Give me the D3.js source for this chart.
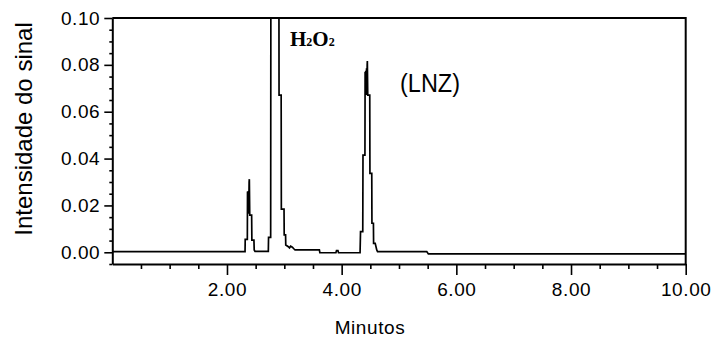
<!DOCTYPE html>
<html>
<head>
<meta charset="utf-8">
<script src="https://cdn.jsdelivr.net/npm/d3@7"></script>
<style>
  html, body { margin: 0; padding: 0; background: #fff; }
  svg { display: block; }
  .tick text { font-family: "Liberation Sans", Arial, sans-serif; fill: #000; }
</style>
</head>
<body>
<svg id="chart" width="711" height="346"></svg>
<script>
// Chromatogram trace: retention time (min) and detector signal
const retentionTime = [
  0.000, 2.315, 2.318, 2.355, 2.358, 2.366, 2.372, 2.379, 2.386, 2.390,
  2.397, 2.430, 2.434, 2.470, 2.475, 2.489,
  2.721, 2.725, 2.762, 2.766, 2.840, 2.905, 2.908, 2.945, 2.948, 2.995,
  2.998, 3.022, 3.025, 3.070, 3.090, 3.110, 3.140, 3.170, 3.187, 3.611,
  3.620, 3.900, 3.910, 3.935, 3.945, 4.321,
  4.329, 4.368, 4.372, 4.406, 4.409, 4.416, 4.422, 4.428, 4.434, 4.440,
  4.445, 4.448, 4.455, 4.490, 4.493, 4.525, 4.528, 4.554, 4.557, 4.585,
  4.612, 4.626, 5.484, 5.512, 10.000
];
const signal = [
  0.0003, 0.0003, 0.0055, 0.0055, 0.0259, 0.0165, 0.0262, 0.0165, 0.0300, 0.0312,
  0.0159, 0.0159, 0.0052, 0.0052, 0.0010, 0.0004,
  0.0004, 0.0064, 0.0064, 0.1300, 0.3500, 0.1300, 0.0671, 0.0671, 0.0184, 0.0184,
  0.0074, 0.0074, 0.0031, 0.0024, 0.0019, 0.0026, 0.0022, 0.0014, 0.0010, 0.0010,
  -0.0002, -0.0002, 0.0007, 0.0007, -0.0002, -0.0002,
  0.0088, 0.0088, 0.0415, 0.0415, 0.0771, 0.0671, 0.0775, 0.0671, 0.0785, 0.0671,
  0.0800, 0.0816, 0.0671, 0.0671, 0.0337, 0.0337, 0.0124, 0.0124, 0.0038, 0.0038,
  0.0010, 0.0003, 0.0003, -0.0007, -0.0007
];

// Axis ticks and labels
const yMajorTicks = [0.00, 0.02, 0.04, 0.06, 0.08, 0.10];
const yMinorTicks = [-0.005, 0.005, 0.010, 0.015, 0.025, 0.030, 0.035, 0.045, 0.050, 0.055,
                     0.065, 0.070, 0.075, 0.085, 0.090, 0.095];
const xMajorTicks = [2, 4, 6, 8, 10];
const xMinorTicks = [0.5, 1, 1.5, 2.5, 3, 3.5, 4.5, 5, 5.5, 6.5, 7, 7.5, 8.5, 9, 9.5];

const peakLabels = ["H", "2", "O", "2"];
const analyteLabel = "(LNZ)";
const xTitle = "Minutos";
const yTitle = "Intensidade do sinal";

const svg = d3.select("#chart");
const plotLeft = 112.3, plotRight = 685.7, plotTop = 18, plotBottom = 264;

const x = d3.scaleLinear().domain([0, 10]).range([plotLeft, plotRight]);
const y = d3.scaleLinear().domain([-0.005, 0.10]).range([plotBottom, plotTop]);

const fontSans = '"Liberation Sans", Arial, sans-serif';

// Frame (top and right edges)
svg.append("path")
  .attr("d", `M${plotLeft},${plotTop}H${plotRight}V${plotBottom}`)
  .attr("fill", "none").attr("stroke", "#000").attr("stroke-width", 2);

// Y axis: minor then major ticks
svg.append("g")
  .attr("transform", `translate(${plotLeft},0)`)
  .call(d3.axisLeft(y).tickValues(yMinorTicks).tickSize(3).tickSizeOuter(0).tickFormat(""))
  .call(g => g.select(".domain").remove())
  .call(g => g.selectAll("line").attr("stroke-width", 1.6));

svg.append("g")
  .attr("transform", `translate(${plotLeft},0)`)
  .call(d3.axisLeft(y).tickValues(yMajorTicks).tickSize(8).tickSizeOuter(0).tickPadding(4).tickFormat(d3.format(".2f")))
  .call(g => g.select(".domain").attr("stroke-width", 2))
  .call(g => g.selectAll("line").attr("stroke-width", 1.6))
  .call(g => g.selectAll("text").attr("font-size", 19).attr("letter-spacing", 0.6));

// X axis: minor then major ticks
svg.append("g")
  .attr("transform", `translate(0,${plotBottom})`)
  .call(d3.axisBottom(x).tickValues(xMinorTicks).tickSize(5).tickSizeOuter(0).tickFormat(""))
  .call(g => g.select(".domain").remove())
  .call(g => g.selectAll("line").attr("stroke-width", 1.6));

svg.append("g")
  .attr("transform", `translate(0,${plotBottom})`)
  .call(d3.axisBottom(x).tickValues(xMajorTicks).tickSize(11).tickSizeOuter(0).tickPadding(8).tickFormat(d3.format(".2f")))
  .call(g => g.select(".domain").attr("stroke-width", 2))
  .call(g => g.selectAll("line").attr("stroke-width", 1.6))
  .call(g => g.selectAll("text").attr("font-size", 19).attr("letter-spacing", 0.6));

// Trace, clipped to the plot area
svg.append("clipPath").attr("id", "plot-clip")
  .append("rect").attr("x", plotLeft).attr("y", plotTop)
  .attr("width", plotRight - plotLeft).attr("height", plotBottom - plotTop);

const trace = retentionTime.map((t, i) => [t, signal[i]]);
svg.append("path")
  .datum(trace)
  .attr("clip-path", "url(#plot-clip)")
  .attr("fill", "none")
  .attr("stroke", "#000")
  .attr("stroke-width", 1.7)
  .attr("d", d3.line().x(d => x(d[0])).y(d => y(d[1])));

// Peak annotations
const h2o2 = svg.append("text")
  .attr("x", 290).attr("y", 46)
  .attr("font-family", '"Liberation Serif", "Times New Roman", serif')
  .attr("font-weight", "bold")
  .attr("font-size", 21);
peakLabels.forEach((s, i) => {
  const sub = i % 2 === 1;
  h2o2.append("tspan").text(s).attr("font-size", sub ? 12 : 21);
});

svg.append("text")
  .attr("x", 400).attr("y", 92)
  .attr("font-family", fontSans)
  .attr("font-size", 26)
  .attr("textLength", 60)
  .attr("lengthAdjust", "spacingAndGlyphs")
  .text(analyteLabel);

// Axis titles
svg.append("text")
  .attr("x", 370).attr("y", 334)
  .attr("text-anchor", "middle")
  .attr("font-family", fontSans)
  .attr("font-size", 19)
  .attr("letter-spacing", 0.6)
  .text(xTitle);

svg.append("text")
  .attr("transform", "translate(32,129) rotate(-90)")
  .attr("text-anchor", "middle")
  .attr("font-family", fontSans)
  .attr("font-size", 24)
  .text(yTitle);
</script>
</body>
</html>
